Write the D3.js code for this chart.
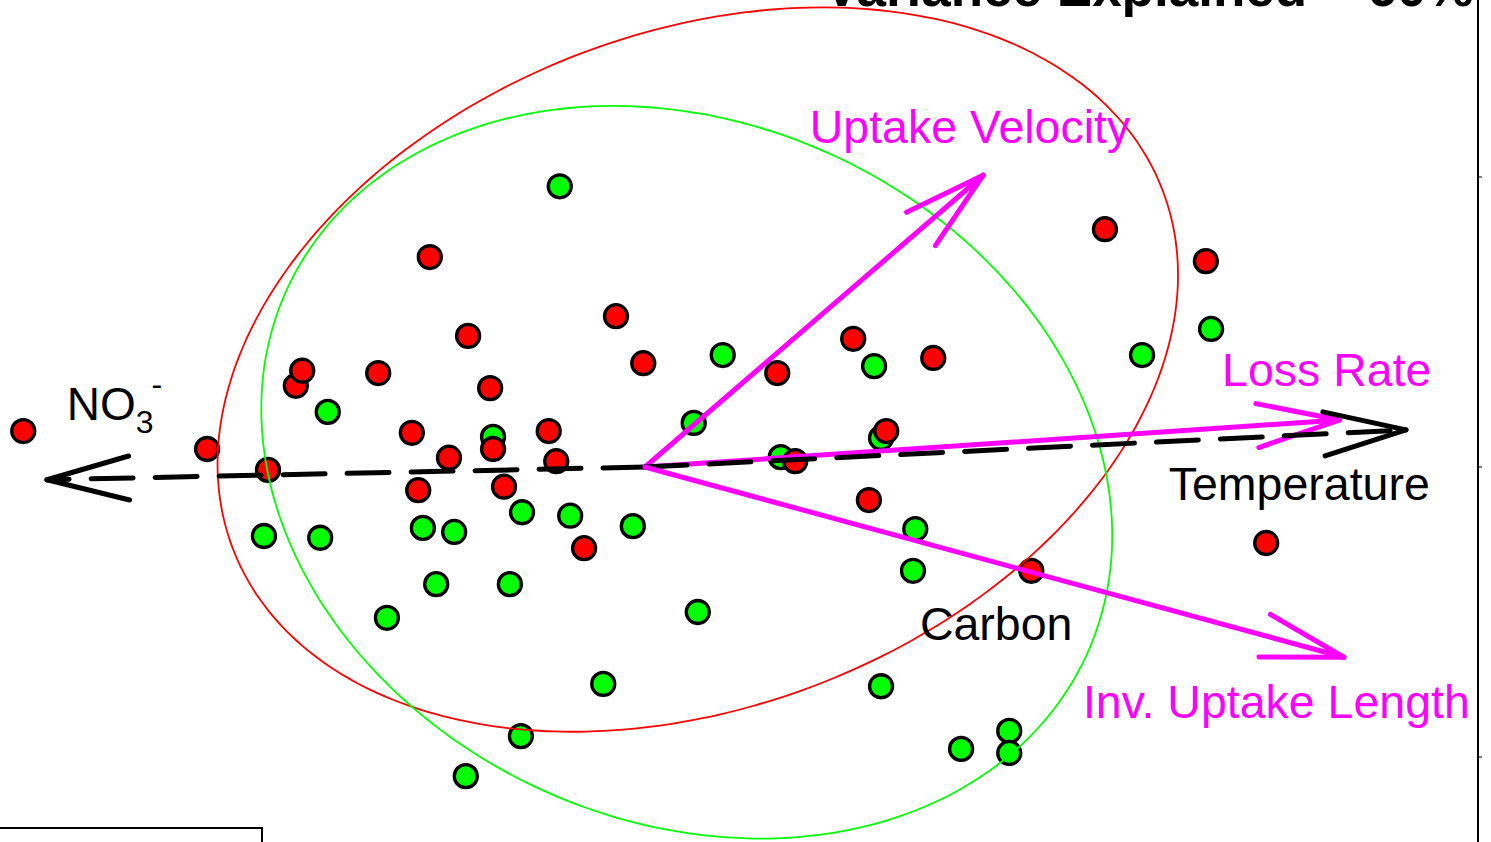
<!DOCTYPE html>
<html>
<head>
<meta charset="utf-8">
<script src="https://cdn.jsdelivr.net/npm/d3@7"></script>
<style>
  html, body { margin: 0; padding: 0; background: #fff; overflow: hidden; }
  svg { display: block; font-family: "Liberation Sans", Arial, sans-serif; }
</style>
</head>
<body>
<div id="biplot"></div>
<script>
// scores (PC1, PC2) for the two groups
const redScores = [
    [-1.072, 0.062], [-0.755, 0.031], [-0.650, -0.005], [-0.602, 0.140], [-0.591, 0.166],
    [-0.460, 0.162], [-0.402, 0.059], [-0.371, 0.362], [-0.338, 0.016], [-0.305, 0.226],
    [-0.267, 0.136], [-0.262, 0.031], [-0.243, -0.034], [-0.391, -0.040], [-0.166, 0.062],
    [-0.153, 0.010], [-0.105, -0.140], [-0.050, 0.260], [-0.003, 0.179], [0.228, 0.162],
    [0.259, 0.010], [0.359, 0.221], [0.386, -0.057], [0.416, 0.062], [0.497, 0.188],
    [0.666, -0.179], [0.793, 0.410], [0.967, 0.355], [1.071, -0.131]
];
const greenScores = [
    [-0.147, 0.484], [-0.547, 0.095], [-0.262, 0.052], [-0.657, -0.119], [-0.560, -0.122],
    [-0.383, -0.105], [-0.329, -0.112], [-0.212, -0.078], [-0.129, -0.084], [-0.021, -0.102],
    [-0.360, -0.202], [-0.233, -0.202], [-0.445, -0.260], [0.091, -0.250], [-0.072, -0.374],
    [-0.214, -0.464], [-0.309, -0.533], [0.134, 0.193], [0.084, 0.076], [0.234, 0.017],
    [0.395, 0.174], [0.407, 0.050], [0.466, -0.107], [0.462, -0.179], [0.407, -0.378],
    [0.545, -0.486], [0.628, -0.455], [0.628, -0.493], [0.857, 0.193], [0.976, 0.238]
];

// confidence ellipses: centre, semi axes, rotation (degrees)
const ellipseRed = { cx: 0.091, cy: 0.168, a: 0.859, b: 0.581, angle: 21.2 };
const ellipseGreen = { cx: 0.072, cy: -0.009, a: 0.758, b: 0.602, angle: -24.5 };

// loadings
const vectorNames = ["Uptake Velocity", "Loss Rate", "Temperature", "NO3", "Inv. Uptake Length"];
const vectorX = [0.583, 1.197, 1.312, -1.031, 1.205];
const vectorY = [0.503, 0.081, 0.064, -0.022, -0.328];
const vectorDashed = [false, false, true, true, false];

const labelTexts = ["Uptake Velocity", "Loss Rate", "Temperature", "Inv. Uptake Length", "Carbon"];
const labelX = [0.284, 0.995, 0.903, 0.755, 0.474];
const labelY = [0.559, 0.140, -0.057, -0.433, -0.298];
const labelMagenta = [true, true, false, true, false];
const no3Label = [-0.997, 0.081];

const yTicks = [-0.5, 0, 0.5];
const titleText = "Variance Explained = 60%";

const sirina = 1491, visina = 842;
const pxPerUnit = 580;
const origin = { x: 645, y: 467 };

const svg = d3.select("#biplot")
    .append("svg")
    .attr("width", sirina)
    .attr("height", visina);

const xScale = d3.scaleLinear()
    .domain([-origin.x / pxPerUnit, (sirina - origin.x) / pxPerUnit])
    .range([0, sirina]);

const yScale = d3.scaleLinear()
    .domain([-(visina - origin.y) / pxPerUnit, origin.y / pxPerUnit])
    .range([visina, 0]);

// points
svg.append("g").selectAll("circle")
    .data(greenScores)
    .join("circle")
    .attr("cx", d => xScale(d[0]))
    .attr("cy", d => yScale(d[1]))
    .attr("r", 11.5)
    .attr("fill", "#00ff00")
    .attr("stroke", "black")
    .attr("stroke-width", 3.3);

svg.append("g").selectAll("circle")
    .data(redScores)
    .join("circle")
    .attr("cx", d => xScale(d[0]))
    .attr("cy", d => yScale(d[1]))
    .attr("r", 11.5)
    .attr("fill", "#ff0000")
    .attr("stroke", "black")
    .attr("stroke-width", 3.3);

// ellipses
function ellipsePoints(e) {
    const t = d3.range(0, 2 * Math.PI + 0.01, Math.PI / 90);
    const r = e.angle * Math.PI / 180;
    return t.map(k => [
        e.cx + e.a * Math.cos(k) * Math.cos(r) - e.b * Math.sin(k) * Math.sin(r),
        e.cy + e.a * Math.cos(k) * Math.sin(r) + e.b * Math.sin(k) * Math.cos(r)
    ]);
}
const ellipseLine = d3.line()
    .x(d => xScale(d[0]))
    .y(d => yScale(d[1]))
    .curve(d3.curveCardinalClosed);

svg.append("path")
    .attr("d", ellipseLine(ellipsePoints(ellipseRed)))
    .attr("fill", "none")
    .attr("stroke", "#ff0000")
    .attr("stroke-width", 1.8);

svg.append("path")
    .attr("d", ellipseLine(ellipsePoints(ellipseGreen)))
    .attr("fill", "none")
    .attr("stroke", "#00ff00")
    .attr("stroke-width", 1.8);

// arrows
const headLen = 85;
const headAngle = 15 * Math.PI / 180;
vectorNames.forEach((name, i) => {
    const x0 = xScale(0), y0 = yScale(0);
    const x1 = xScale(vectorX[i]), y1 = yScale(vectorY[i]);
    const boja = vectorDashed[i] ? "black" : "#ff00ff";
    const back = Math.atan2(y0 - y1, x0 - x1);

    svg.append("line")
        .attr("x1", x0).attr("y1", y0)
        .attr("x2", x1).attr("y2", y1)
        .attr("stroke", boja)
        .attr("stroke-width", 5)
        .attr("stroke-linecap", "round")
        .attr("stroke-dasharray", vectorDashed[i] ? "42,22" : null);

    [-1, 1].forEach(s => {
        svg.append("line")
            .attr("x1", x1).attr("y1", y1)
            .attr("x2", x1 + headLen * Math.cos(back + s * headAngle))
            .attr("y2", y1 + headLen * Math.sin(back + s * headAngle))
            .attr("stroke", boja)
            .attr("stroke-width", 5)
            .attr("stroke-linecap", "round");
    });
});

// labels
labelTexts.forEach((t, i) => {
    svg.append("text")
        .attr("x", xScale(labelX[i]))
        .attr("y", yScale(labelY[i]))
        .attr("font-size", 46.5)
        .attr("fill", labelMagenta[i] ? "#ff00ff" : "black")
        .text(t);
});

const no3 = svg.append("text")
    .attr("x", xScale(no3Label[0]))
    .attr("y", yScale(no3Label[1]))
    .attr("font-size", 46)
    .attr("fill", "black");
no3.append("tspan").text("NO");
no3.append("tspan").attr("font-size", 32).attr("dy", 13).text("3");
no3.append("tspan").attr("font-size", 32).attr("dy", -38).attr("dx", -2).text("-");

// frame pieces
svg.append("line")
    .attr("x1", 1478).attr("x2", 1478)
    .attr("y1", 0).attr("y2", visina)
    .attr("stroke", "black")
    .attr("stroke-width", 2);

svg.append("g").selectAll("line")
    .data(yTicks)
    .join("line")
    .attr("x1", 1478).attr("x2", 1482)
    .attr("y1", d => yScale(d)).attr("y2", d => yScale(d))
    .attr("stroke", "black")
    .attr("stroke-width", 1);

svg.append("rect")
    .attr("x", -2).attr("y", 828)
    .attr("width", 264).attr("height", 40)
    .attr("fill", "white")
    .attr("stroke", "black")
    .attr("stroke-width", 2);

// title sits partly above the visible area, as in the original
svg.append("text")
    .attr("x", 824)
    .attr("y", 6)
    .attr("font-size", 53)
    .attr("font-weight", "bold")
    .attr("fill", "black")
    .text(titleText);
</script>
</body>
</html>
